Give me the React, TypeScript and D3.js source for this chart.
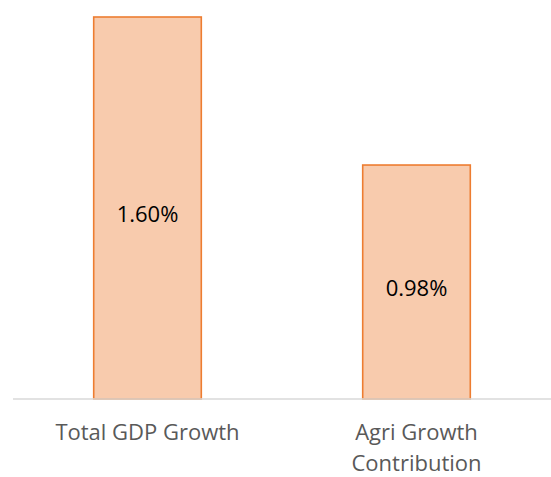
import React from "react";
import * as d3 from "d3";

const categories = ["Total GDP Growth", "Agri Growth Contribution"];
const values = [1.6, 0.98];
const valueLabels = ["1.60%", "0.98%"];

const W = 551;
const H = 477;
const FONT = "'Open Sans', sans-serif";

function wrap(text: string, maxWidth: number, font: string): string[] {
  const canvas = document.createElement("canvas");
  const ctx = canvas.getContext("2d");
  if (!ctx) return [text];
  ctx.font = font;
  const words = text.split(" ");
  const lines: string[] = [];
  let cur = "";
  for (const w of words) {
    const test = cur ? cur + " " + w : w;
    if (ctx.measureText(test).width > maxWidth && cur) {
      lines.push(cur);
      cur = w;
    } else {
      cur = test;
    }
  }
  if (cur) lines.push(cur);
  return lines;
}

export default function App() {
  const x = d3
    .scaleBand<string>()
    .domain(categories)
    .range([13, 551])
    .paddingInner(0.6)
    .paddingOuter(0.3);
  const y = d3.scaleLinear().domain([0, 1.6]).range([399, 17]);

  return (
    <svg
      width={W}
      height={H}
      style={{ position: "absolute", left: 0, top: 0, background: "#fff" }}
    >
      {categories.map((c, i) => {
        const bx = x(c)!;
        const bw = x.bandwidth();
        const top = y(values[i]);
        return (
          <g key={c}>
            <rect
              x={bx}
              y={top}
              width={bw}
              height={y(0) - top}
              fill="#f8cbad"
              stroke="#ed7d31"
              strokeWidth={1.6}
            />
          </g>
        );
      })}
      <line x1={13} x2={551} y1={y(0)} y2={y(0)} stroke="#d9d9d9" strokeWidth={1.6} />
      {categories.map((c, i) => {
        const cx = x(c)! + x.bandwidth() / 2;
        const cy = (y(values[i]) + y(0)) / 2 + 5;
        return (
          <text
            key={"v" + c}
            x={cx}
            y={cy}
            textAnchor="middle"
            dominantBaseline="central"
            fontFamily={FONT}
            fontSize={22}
            fill="#000"
          >
            {valueLabels[i]}
          </text>
        );
      })}
      {categories.map((c) => {
        const cx = x(c)! + x.bandwidth() / 2;
        const lines = wrap(c, 200, `22px ${FONT}`);
        return (
          <text
            key={"c" + c}
            x={cx}
            y={440}
            textAnchor="middle"
            fontFamily={FONT}
            fontSize={22}
            fill="#595959"
          >
            {lines.map((l, j) => (
              <tspan key={j} x={cx} dy={j === 0 ? 0 : 31}>
                {l}
              </tspan>
            ))}
          </text>
        );
      })}
    </svg>
  );
}
